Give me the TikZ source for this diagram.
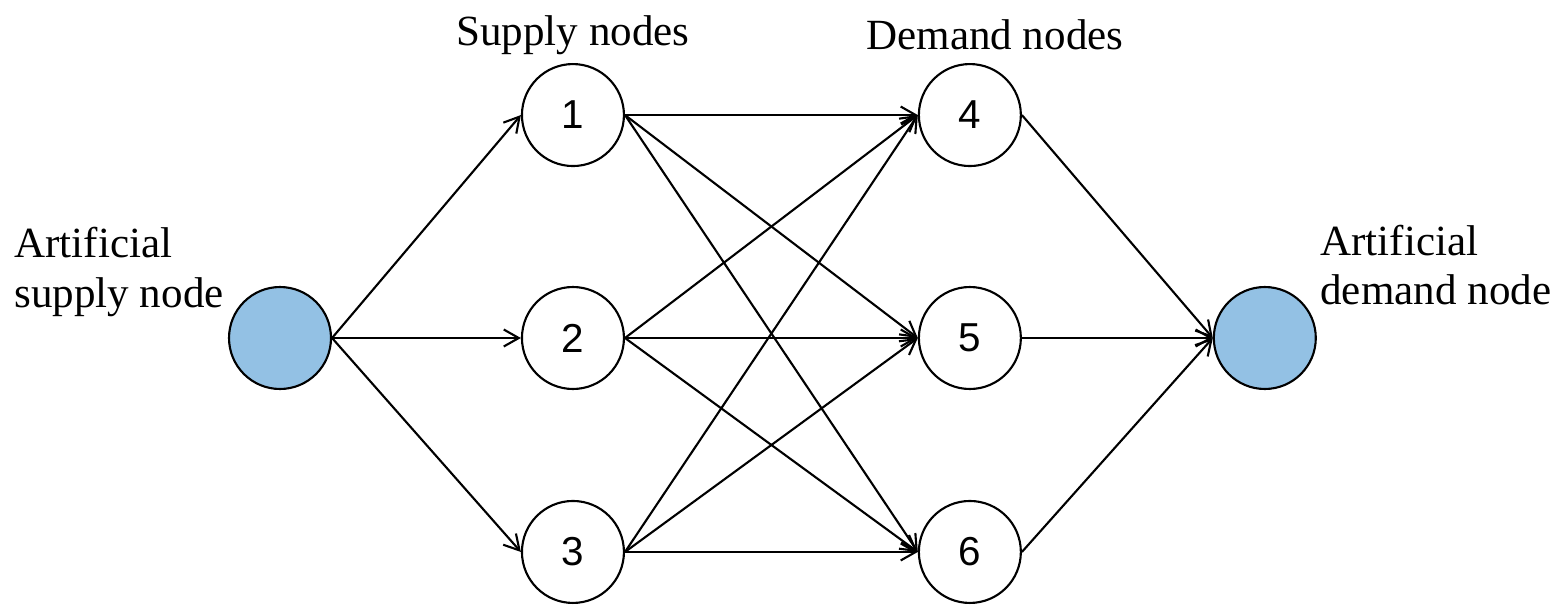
\documentclass[tikz,border=0pt]{standalone}
\usepackage{fontspec}
\setmainfont{Liberation Serif}
\newfontfamily\numfont{Liberation Sans}
\usetikzlibrary{positioning}
\usetikzlibrary{arrows.meta}
\definecolor{nodeblue}{RGB}{147,193,228}

\begin{document}
\begin{tikzpicture}[x=0.02cm,y=-0.02cm,on grid,
    every node/.style={font=\fontsize{24.5}{28}\selectfont},
    num/.style={circle,draw,line width=1.2pt,minimum size=2.04cm,inner sep=0pt,
      font=\numfont\fontsize{23}{26}\selectfont},
    art/.style={num,fill=nodeblue},
    flow/.style={line width=1.2pt,-{Straight Barb[length=3mm,width=3.4mm]}}]
   \useasboundingbox (0,0) rectangle (1565,605);
   \node[art] (src) at (280,338) {};
   \node[num] (n1) [above right=4.46cm and 5.86cm of src] {1};
   \node[num] (n2) [below=4.46cm of n1] {2};
   \node[num] (n3) [below=4.28cm of n2] {3};
   \node[num] (n4) [right=7.94cm of n1] {4};
   \node[num] (n5) [right=7.94cm of n2] {5};
   \node[num] (n6) [right=7.94cm of n3] {6};
   \node[art] (snk) [right=5.9cm of n5] {};
   \node (suplab) [above=1.6cm of n1] {Supply nodes};
   \node (demlab) [above=1.6cm of n4,xshift=0.5cm] {Demand nodes};
   \node (srclab) [above left=1.32cm and 3.22cm of src,align=left] {Artificial\\supply node};
   \node (snklab) [above right=1.46cm and 3.42cm of snk,align=left] {Artificial\\demand node};
   \draw[flow] (src.east) -- (n1.west);
   \draw[flow] (src.east) -- (n2.west);
   \draw[flow] (src.east) -- (n3.west);
   \draw[flow] (n1.east) -- (n4.west);
   \draw[flow] (n1.east) -- (n5.west);
   \draw[flow] (n1.east) -- (n6.west);
   \draw[flow] (n2.east) -- (n4.west);
   \draw[flow] (n2.east) -- (n5.west);
   \draw[flow] (n2.east) -- (n6.west);
   \draw[flow] (n3.east) -- (n4.west);
   \draw[flow] (n3.east) -- (n5.west);
   \draw[flow] (n3.east) -- (n6.west);
   \draw[flow] (n4.east) -- (snk.west);
   \draw[flow] (n5.east) -- (snk.west);
   \draw[flow] (n6.east) -- (snk.west);
\end{tikzpicture}
\end{document}
